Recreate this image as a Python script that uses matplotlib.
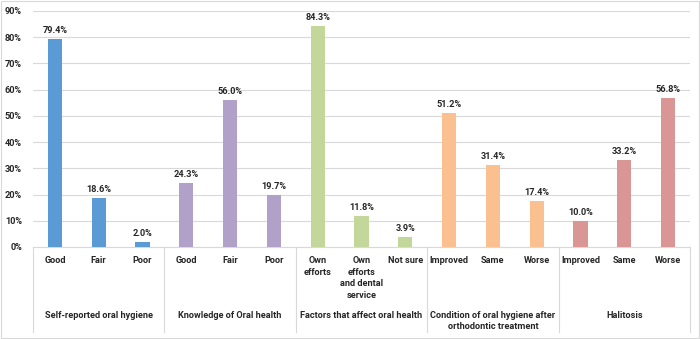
import matplotlib
matplotlib.use("Agg")
import matplotlib.pyplot as plt
from matplotlib.patches import Rectangle

# data
groups = ["Self-reported oral hygiene", "Knowledge of Oral health",
          "Factors that affect oral health",
          "Condition of oral hygiene after\northodontic treatment", "Halitosis"]
categories = [["Good", "Fair", "Poor"],
              ["Good", "Fair", "Poor"],
              ["Own\nefforts", "Own\nefforts\nand dental\nservice", "Not sure"],
              ["Improved", "Same", "Worse"],
              ["Improved", "Same", "Worse"]]
values = [[79.4, 18.6, 2.0],
          [24.3, 56.0, 19.7],
          [84.3, 11.8, 3.9],
          [51.2, 31.4, 17.4],
          [10.0, 33.2, 56.8]]
colors = ["#5B9BD5", "#B1A0C7", "#C4D79B", "#FAC090", "#DA9694"]

plt.rcParams['font.family'] = ['Roboto', 'DejaVu Sans']
fs = 6.6

fig = plt.figure(figsize=(7, 3.39), dpi=100)
ax = fig.add_axes([33/700, (339-247)/339, (690-33)/700, 236/339])

fig.patches.append(Rectangle((0.001, 0.003), 0.998, 0.994, transform=fig.transFigure,
                             fill=False, edgecolor="#D9D9D9", linewidth=0.8))

x = 0
for g, cats in enumerate(categories):
    for i, c in enumerate(cats):
        v = values[g][i]
        ax.bar(x, v / 100, width=0.32, color=colors[g], zorder=3)
        ax.text(x, v / 100 + 0.015, f"{v:.1f}%", ha="center", va="bottom",
                fontsize=fs, fontweight="bold", color="#262626")
        ax.text(x, -0.04, c, ha="center", va="top", fontsize=fs, fontweight="bold",
                color="#262626", transform=ax.get_xaxis_transform(), linespacing=1.35)
        x += 1
    ax.text(g * 3 + 1, -0.27, groups[g], ha="center", va="top", fontsize=fs,
            fontweight="bold", color="#262626", transform=ax.get_xaxis_transform(),
            linespacing=1.35)

for k in range(len(groups) + 1):
    ax.plot([k * 3 - 0.5, k * 3 - 0.5], [0, -(332-247)/236], color="#D9D9D9",
            linewidth=0.8, transform=ax.get_xaxis_transform(), clip_on=False)

ax.set_xlim(-0.5, 14.5)
ax.set_ylim(0, 0.9)
ax.set_yticks([i / 10 for i in range(10)])
ax.set_yticklabels([f"{i*10}%" for i in range(10)], fontsize=fs, fontweight="bold",
                   color="#262626")
ax.set_xticks([])
ax.tick_params(axis="y", length=0, pad=8)
ax.grid(axis="y", color="#D9D9D9", linewidth=0.8, zorder=0)
for s in ["top", "right", "left"]:
    ax.spines[s].set_visible(False)
ax.spines["bottom"].set_color("#D9D9D9")
ax.spines["bottom"].set_linewidth(0.8)

plt.savefig("out.png", dpi=100)
